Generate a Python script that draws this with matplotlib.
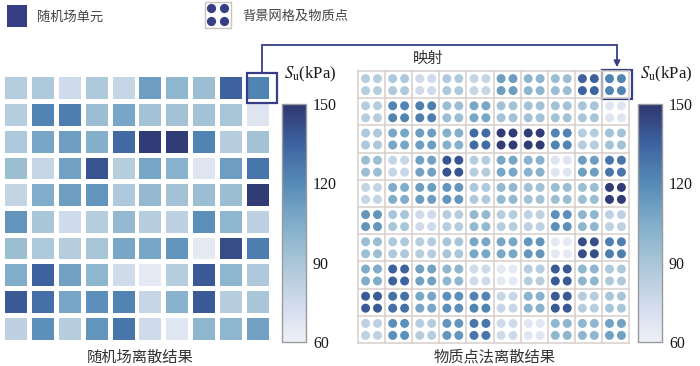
import numpy as np
import matplotlib
matplotlib.use('Agg')
import matplotlib.pyplot as plt
from matplotlib.colors import LinearSegmentedColormap, Normalize
from matplotlib.patches import Rectangle, Circle
import matplotlib.colorbar as mcolorbar

plt.rcParams['font.family'] = ['Noto Sans CJK SC', 'DejaVu Sans']
plt.rcParams['mathtext.fontset'] = 'stix'

# Su values (kPa) of the 10x10 random field, row 1 = top
su = np.array([
    [85, 88, 75, 88, 78, 112, 100, 95, 135, 122],
    [85, 122, 125, 95, 108, 92, 92, 92, 90, 68],
    [88, 108, 112, 103, 132, 148, 148, 122, 85, 92],
    [95, 78, 110, 140, 85, 108, 102, 68, 112, 128],
    [80, 105, 112, 115, 88, 98, 92, 95, 95, 148],
    [115, 90, 75, 85, 98, 85, 82, 118, 100, 82],
    [95, 88, 85, 90, 108, 108, 115, 65, 142, 125],
    [105, 135, 110, 100, 75, 65, 85, 138, 100, 88],
    [138, 130, 108, 118, 122, 78, 102, 138, 85, 90],
    [82, 118, 85, 115, 128, 75, 67, 100, 100, 110],
])
cbar_ticks = [60, 90, 120, 150]
vmin, vmax = 60, 150

legend_cell = '随机场单元'
legend_mpm = '背景网格及物质点'
map_label = '映射'
left_title = '随机场离散结果'
right_title = '物质点法离散结果'
unit_label = r'$S_{\mathrm{u}}$(kPa)'

navy = '#363f84'
cmap = LinearSegmentedColormap.from_list('su', [
    (0.0, '#eef0f8'), (1/6, '#cfdaeb'), (2/6, '#a9c6d8'), (3/6, '#80adca'),
    (4/6, '#568ab6'), (5/6, '#3d63a0'), (1.0, '#2f3670')])
norm = Normalize(vmin, vmax)

W, H = 700, 366
fig = plt.figure(figsize=(W / 100, H / 100), dpi=100)


def px_axes(x, y, w, h, **kw):
    return fig.add_axes([x / W, 1 - (y + h) / H, w / W, h / H], **kw)


n = su.shape[0]

# left: random field cells
axl = px_axes(3, 75, 268, 267)
axl.set_xlim(0, n)
axl.set_ylim(n, 0)
axl.axis('off')
for i in range(n):
    for j in range(n):
        axl.add_patch(Rectangle((j + 0.09, i + 0.09), 0.82, 0.82, color=cmap(norm(su[i, j])), lw=0))
axl.add_patch(Rectangle((9.1, -0.07), 1.12, 1.12, fill=False, ec=navy, lw=1.6, clip_on=False))

# right: background grid with 2x2 material points per cell
axr = px_axes(358, 71, 271, 272)
axr.set_xlim(0, n)
axr.set_ylim(n, 0)
axr.axis('off')
for k in range(n + 1):
    axr.plot([k, k], [0, n], color='#d6cfcc', lw=1.1, clip_on=False)
    axr.plot([0, n], [k, k], color='#d6cfcc', lw=1.1, clip_on=False)
offs = [0.28, 0.72]
for i in range(n):
    for j in range(n):
        c = cmap(norm(su[i, j]))
        for dy in offs:
            for dx in offs:
                axr.add_patch(Circle((j + dx, i + dy), 0.165, color=c, lw=0))
axr.add_patch(Rectangle((9.0, -0.04), 1.1, 1.07, fill=False, ec=navy, lw=1.6, clip_on=False))

# colorbars
for x0 in (282, 638):
    cax = px_axes(x0, 104, 24, 238)
    cb = mcolorbar.ColorbarBase(cax, cmap=cmap, norm=norm, ticks=cbar_ticks)
    cb.outline.set_edgecolor('#9a9a9a')
    cb.outline.set_linewidth(1)
    cax.tick_params(length=0, pad=5)
    for t in cax.get_yticklabels():
        t.set_family('Liberation Serif')
        t.set_fontsize(11.5)
        t.set_color('#1a1a1a')

# overlay for legend, arrow and labels
ov = px_axes(0, 0, W, H, zorder=10)
ov.set_xlim(0, W)
ov.set_ylim(H, 0)
ov.axis('off')
ov.patch.set_alpha(0)

ov.add_patch(Rectangle((7, 5), 20, 22, color=navy, lw=0))
ov.text(37, 17, legend_cell, fontsize=9.5, color='#444444', va='center')
ov.add_patch(Rectangle((205, 2), 26, 26, fc='white', ec='#c8c2c0', lw=1))
for cx in (211.5, 224.5):
    for cy in (8.5, 21.5):
        ov.add_patch(Circle((cx, cy), 4.6, color=navy, lw=0))
ov.text(242, 16, legend_mpm, fontsize=9.5, color='#444444', va='center')

ov.plot([262, 262, 617, 617], [73, 45, 45, 60], color=navy, lw=1.3, solid_joinstyle='miter')
ov.annotate('', xy=(617, 70), xytext=(617, 58),
            arrowprops=dict(arrowstyle='-|>', color=navy, lw=1.3, mutation_scale=9))
ov.text(428, 58, map_label, fontsize=11, color='#333333', ha='center', va='center')

for x0 in (284, 640):
    ov.text(x0, 74, unit_label, fontsize=12, family='Liberation Serif', color='#1a1a1a', va='center')

ov.text(140, 357, left_title, fontsize=11, color='#333333', ha='center', va='center')
ov.text(495, 357, right_title, fontsize=11, color='#333333', ha='center', va='center')

fig.savefig('out.png', dpi=100)
